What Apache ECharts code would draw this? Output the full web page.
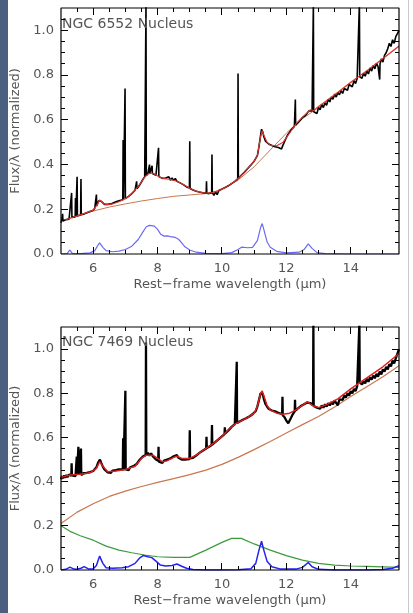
<!DOCTYPE html>
<html>
<head>
<meta charset="utf-8">
<script src="https://cdn.jsdelivr.net/npm/echarts@6/dist/echarts.min.js"></script>
<style>
  html, body { margin: 0; padding: 0; background: #fff; }
  #wrap { position: relative; width: 413px; height: 613px; }
  #chart { width: 413px; height: 613px; }
  .strip { position: absolute; left: 0; top: 0; width: 8px; height: 613px; background: #4b5f80; }
  .edge { position: absolute; left: 408px; top: 0; width: 1px; height: 613px; background: #c8c8c8; }
</style>
</head>
<body>
<div id="wrap">
  <div id="chart"></div>
  <div class="strip"></div>
  <div class="edge"></div>
</div>
<script>
// axis ranges and ticks
const X_MIN = 5, X_MAX = 15.5, X_STEP = 1
const Y_MIN = 0, Y_MAX = 1.1, Y_STEP = 0.2
const xMajorTicks = [6, 8, 10, 12, 14]
const xMinorTicks = [5.5, 6.5, 7, 7.5, 8.5, 9, 9.5, 10.5, 11, 11.5, 12.5, 13, 13.5, 14.5, 15]
const yMajorTicks = [0.2, 0.4, 0.6, 0.8, 1.0]
const yMinorTicks = [0.05, 0.1, 0.15, 0.25, 0.3, 0.35, 0.45, 0.5, 0.55, 0.65, 0.7, 0.75, 0.85, 0.9, 0.95, 1.05]

const panelTitles = ['NGC 6552 Nucleus', 'NGC 7469 Nucleus']

// NGC 6552 : [wavelength (um), flux/lambda]
const ngc6552Spectrum = [[5.0,.14],[5.02,.15],[5.04,.149],[5.05,.18],[5.06,.148],[5.1,.15],[5.15,.153],[5.2,.158],[5.25,.156],[5.3,.162],[5.32,.161],[5.33,.273],[5.34,.163],[5.4,.166],[5.44,.166],[5.45,.25],[5.46,.167],[5.49,.168],[5.5,.345],[5.51,.17],[5.56,.172],[5.61,.174],[5.62,.335],[5.63,.176],[5.7,.178],[5.75,.181],[5.8,.184],[5.85,.187],[5.9,.19],[5.95,.193],[6.0,.196],[6.05,.205],[6.09,.21],[6.1,.266],[6.11,.215],[6.17,.238],[6.21,.245],[6.25,.236],[6.3,.228],[6.35,.222],[6.4,.22],[6.45,.222],[6.5,.225],[6.55,.224],[6.6,.228],[6.65,.23],[6.7,.232],[6.75,.236],[6.8,.235],[6.85,.24],[6.92,.243],[6.93,.51],[6.94,.244],[6.98,.246],[6.99,.74],[7.0,.248],[7.05,.252],[7.1,.258],[7.15,.262],[7.2,.27],[7.25,.278],[7.3,.285],[7.34,.29],[7.35,.325],[7.36,.292],[7.4,.3],[7.45,.31],[7.5,.322],[7.55,.335],[7.6,.345],[7.63,.347],[7.64,1.12],[7.65,.35],[7.7,.36],[7.74,.362],[7.75,.4],[7.76,.36],[7.8,.365],[7.82,.364],[7.83,.395],[7.84,.36],[7.9,.358],[7.95,.352],[8.0,.348],[8.02,.347],[8.03,.475],[8.04,.346],[8.1,.34],[8.15,.338],[8.2,.336],[8.25,.34],[8.3,.337],[8.35,.345],[8.4,.33],[8.45,.34],[8.5,.328],[8.55,.338],[8.6,.325],[8.65,.322],[8.7,.318],[8.75,.315],[8.8,.31],[8.85,.305],[8.9,.3],[8.95,.296],[8.99,.295],[9.0,.504],[9.01,.293],[9.1,.286],[9.2,.281],[9.3,.277],[9.4,.274],[9.45,.272],[9.51,.272],[9.52,.325],[9.53,.272],[9.6,.27],[9.65,.274],[9.68,.274],[9.69,.445],[9.7,.275],[9.75,.262],[9.8,.278],[9.85,.265],[9.9,.283],[10.0,.29],[10.1,.297],[10.2,.305],[10.3,.315],[10.4,.325],[10.45,.333],[10.49,.336],[10.5,.807],[10.51,.338],[10.6,.352],[10.7,.366],[10.8,.382],[10.9,.398],[11.0,.415],[11.1,.44],[11.15,.48],[11.2,.53],[11.23,.558],[11.27,.545],[11.3,.525],[11.35,.505],[11.4,.497],[11.45,.492],[11.5,.488],[11.55,.485],[11.6,.482],[11.65,.48],[11.7,.478],[11.75,.476],[11.8,.474],[11.85,.47],[11.9,.488],[11.95,.505],[12.0,.52],[12.05,.535],[12.1,.545],[12.15,.555],[12.2,.562],[12.25,.57],[12.27,.574],[12.28,.691],[12.29,.576],[12.35,.585],[12.4,.59],[12.45,.6],[12.5,.61],[12.55,.605],[12.6,.62],[12.65,.63],[12.7,.64],[12.75,.645],[12.8,.64],[12.83,.638],[12.84,1.12],[12.85,.636],[12.9,.642],[12.95,.628],[13.0,.655],[13.05,.645],[13.1,.668],[13.15,.655],[13.2,.675],[13.25,.665],[13.3,.692],[13.35,.68],[13.4,.702],[13.45,.692],[13.5,.715],[13.55,.702],[13.6,.722],[13.65,.712],[13.7,.73],[13.75,.718],[13.8,.74],[13.85,.748],[13.9,.732],[13.95,.758],[14.0,.762],[14.05,.748],[14.1,.775],[14.15,.762],[14.2,.785],[14.26,.79],[14.27,1.12],[14.28,.792],[14.35,.786],[14.4,.808],[14.45,.795],[14.5,.818],[14.55,.805],[14.6,.832],[14.65,.818],[14.7,.843],[14.75,.828],[14.8,.853],[14.85,.838],[14.89,.845],[14.9,.78],[14.91,.85],[14.95,.872],[15.0,.858],[15.05,.888],[15.1,.9],[15.15,.918],[15.2,.942],[15.25,.928],[15.3,.958],[15.35,.942],[15.4,.972],[15.45,.985],[15.5,1.0]]
const ngc6552Fit = [[5.0,.145],[5.2,.155],[5.4,.165],[5.6,.175],[5.8,.185],[6.0,.196],[6.1,.215],[6.2,.242],[6.3,.228],[6.4,.22],[6.6,.224],[6.8,.234],[7.0,.247],[7.2,.27],[7.4,.302],[7.6,.344],[7.7,.357],[7.8,.362],[7.9,.358],[8.0,.349],[8.2,.337],[8.4,.333],[8.6,.325],[8.8,.311],[9.0,.294],[9.2,.281],[9.4,.274],[9.6,.272],[9.8,.278],[10.0,.29],[10.2,.305],[10.4,.325],[10.6,.351],[10.8,.383],[11.0,.415],[11.1,.44],[11.2,.525],[11.25,.552],[11.3,.532],[11.4,.5],[11.5,.487],[11.7,.484],[11.9,.5],[12.1,.54],[12.3,.582],[12.5,.612],[12.65,.632],[12.75,.645],[12.85,.642],[13.0,.66],[13.5,.712],[14.0,.768],[14.5,.82],[15.0,.875],[15.5,.93]]
const ngc6552Continuum = [[5.0,.148],[5.5,.17],[6.0,.192],[6.5,.21],[7.0,.224],[7.5,.237],[8.0,.248],[8.5,.258],[9.0,.264],[9.5,.27],[9.8,.28],[10.0,.292],[10.5,.33],[11.0,.39],[11.5,.465],[12.0,.54],[12.3,.582],[12.5,.605],[13.0,.655],[13.5,.71],[14.0,.766],[14.5,.818],[15.0,.872],[15.5,.928]]
const ngc6552Pah = [[5.0,0],[5.2,.003],[5.27,.018],[5.35,.003],[5.6,.002],[5.9,.005],[6.05,.015],[6.15,.04],[6.2,.05],[6.3,.03],[6.4,.015],[6.6,.01],[6.8,.013],[7.0,.02],[7.2,.035],[7.4,.065],[7.55,.1],[7.65,.122],[7.75,.128],[7.9,.125],[8.0,.11],[8.1,.088],[8.2,.08],[8.3,.081],[8.4,.078],[8.55,.074],[8.65,.066],[8.75,.05],[8.85,.032],[9.0,.018],[9.2,.008],[9.5,.003],[10.0,.002],[10.3,.006],[10.5,.02],[10.62,.031],[10.8,.028],[10.95,.03],[11.1,.06],[11.2,.118],[11.25,.136],[11.3,.11],[11.4,.055],[11.5,.03],[11.7,.012],[12.0,.005],[12.4,.008],[12.55,.02],[12.68,.045],[12.8,.025],[12.95,.006],[13.2,.002],[14.0,0],[15.5,0]]

// NGC 7469
const ngc7469Spectrum = [[5.0,.41],[5.03,.425],[5.06,.415],[5.1,.428],[5.13,.418],[5.17,.43],[5.2,.42],[5.25,.432],[5.3,.425],[5.32,.427],[5.33,.483],[5.34,.428],[5.4,.435],[5.45,.425],[5.48,.43],[5.49,.513],[5.5,.43],[5.53,.432],[5.54,.558],[5.55,.432],[5.6,.438],[5.61,.437],[5.62,.55],[5.63,.43],[5.7,.438],[5.75,.43],[5.8,.44],[5.85,.435],[5.9,.443],[5.95,.438],[6.0,.448],[6.05,.45],[6.1,.465],[6.15,.485],[6.21,.5],[6.25,.485],[6.3,.468],[6.35,.455],[6.4,.45],[6.45,.442],[6.5,.448],[6.55,.44],[6.6,.45],[6.65,.443],[6.7,.452],[6.75,.445],[6.8,.455],[6.85,.448],[6.92,.456],[6.93,.596],[6.94,.45],[6.99,.455],[7.0,.811],[7.01,.455],[7.05,.46],[7.1,.452],[7.15,.465],[7.2,.46],[7.25,.47],[7.3,.465],[7.35,.48],[7.4,.49],[7.45,.5],[7.5,.508],[7.55,.515],[7.6,.52],[7.63,.52],[7.64,1.03],[7.65,.52],[7.7,.53],[7.75,.518],[7.8,.528],[7.85,.515],[7.9,.51],[7.95,.5],[8.0,.498],[8.02,.495],[8.03,.558],[8.04,.49],[8.1,.492],[8.15,.485],[8.2,.495],[8.25,.49],[8.3,.5],[8.35,.498],[8.4,.505],[8.45,.51],[8.5,.515],[8.55,.51],[8.6,.52],[8.65,.508],[8.7,.51],[8.75,.5],[8.8,.508],[8.85,.5],[8.9,.505],[8.99,.502],[9.0,.633],[9.01,.505],[9.05,.51],[9.1,.508],[9.15,.515],[9.2,.518],[9.25,.525],[9.3,.53],[9.35,.535],[9.4,.54],[9.45,.545],[9.51,.55],[9.52,.603],[9.53,.552],[9.6,.558],[9.65,.565],[9.68,.566],[9.69,.656],[9.7,.568],[9.75,.572],[9.8,.58],[9.85,.588],[9.9,.592],[9.95,.6],[10.0,.605],[10.05,.612],[10.08,.615],[10.09,.646],[10.1,.618],[10.15,.625],[10.2,.632],[10.25,.64],[10.3,.648],[10.35,.655],[10.4,.66],[10.45,.663],[10.46,.943],[10.47,.665],[10.5,.668],[10.55,.672],[10.6,.675],[10.65,.68],[10.7,.683],[10.75,.687],[10.8,.69],[10.85,.695],[10.9,.7],[10.95,.705],[11.0,.712],[11.05,.72],[11.1,.74],[11.15,.77],[11.2,.8],[11.23,.808],[11.27,.795],[11.3,.775],[11.35,.752],[11.4,.74],[11.45,.73],[11.5,.725],[11.55,.722],[11.6,.72],[11.65,.718],[11.7,.715],[11.75,.712],[11.8,.71],[11.87,.706],[11.88,.784],[11.89,.7],[11.95,.69],[12.0,.676],[12.06,.664],[12.1,.672],[12.15,.69],[12.2,.705],[12.26,.718],[12.27,.77],[12.28,.722],[12.35,.73],[12.4,.738],[12.45,.742],[12.5,.745],[12.55,.75],[12.6,.752],[12.65,.758],[12.7,.76],[12.75,.755],[12.83,.75],[12.84,1.12],[12.85,.742],[12.9,.738],[12.95,.735],[13.0,.738],[13.05,.73],[13.1,.745],[13.15,.735],[13.2,.75],[13.25,.74],[13.3,.755],[13.35,.745],[13.4,.76],[13.45,.75],[13.5,.768],[13.55,.756],[13.6,.746],[13.65,.772],[13.7,.78],[13.75,.77],[13.8,.79],[13.85,.78],[13.9,.8],[13.95,.79],[14.0,.81],[14.05,.8],[14.1,.82],[14.15,.81],[14.2,.832],[14.26,.838],[14.27,1.12],[14.28,.848],[14.35,.84],[14.4,.855],[14.45,.845],[14.5,.865],[14.55,.852],[14.6,.872],[14.65,.862],[14.7,.88],[14.75,.868],[14.8,.888],[14.85,.875],[14.9,.898],[14.95,.885],[15.0,.908],[15.05,.898],[15.1,.92],[15.15,.908],[15.2,.932],[15.25,.922],[15.3,.948],[15.35,.935],[15.4,.958],[15.45,.965],[15.5,1.0]]
const ngc7469Fit = [[5.0,.42],[5.3,.43],[5.6,.433],[5.9,.44],[6.1,.46],[6.2,.49],[6.3,.47],[6.45,.445],[6.7,.448],[7.0,.455],[7.3,.47],[7.5,.505],[7.65,.52],[7.85,.52],[8.0,.505],[8.15,.49],[8.3,.495],[8.5,.51],[8.6,.515],[8.75,.505],[9.0,.505],[9.2,.52],[9.4,.54],[9.6,.56],[9.8,.58],[10.0,.605],[10.2,.635],[10.4,.66],[10.6,.675],[10.8,.69],[11.0,.71],[11.1,.74],[11.2,.8],[11.25,.81],[11.3,.79],[11.4,.745],[11.5,.725],[11.7,.71],[11.9,.705],[12.1,.71],[12.3,.725],[12.5,.745],[12.65,.762],[12.8,.745],[13.0,.735],[13.3,.752],[13.6,.775],[14.0,.82],[14.5,.87],[15.0,.92],[15.5,.98]]
const ngc7469Continuum = [[5.0,.21],[5.5,.262],[6.0,.3],[6.5,.333],[7.0,.357],[7.5,.378],[8.0,.397],[8.5,.414],[9.0,.432],[9.5,.452],[10.0,.478],[10.5,.51],[11.0,.545],[11.5,.582],[12.0,.62],[12.5,.658],[13.0,.695],[13.5,.738],[14.0,.785],[14.5,.83],[15.0,.875],[15.5,.925]]
const ngc7469Silicate = [[5.0,.2],[5.28,.175],[5.6,.155],[6.0,.135],[6.4,.108],[6.8,.09],[7.2,.078],[7.6,.068],[8.0,.06],[8.5,.057],[9.0,.057],[9.5,.09],[10.0,.125],[10.3,.143],[10.6,.143],[11.0,.118],[11.5,.09],[12.0,.065],[12.5,.045],[13.0,.03],[13.5,.022],[14.0,.018],[14.5,.016],[15.0,.014],[15.5,.012]]
const ngc7469Pah = [[5.0,0],[5.15,.003],[5.28,.013],[5.4,.004],[5.5,.003],[5.62,.008],[5.72,.015],[5.85,.005],[6.0,.005],[6.1,.02],[6.2,.063],[6.3,.03],[6.4,.01],[6.6,.008],[6.9,.01],[7.1,.015],[7.3,.03],[7.45,.055],[7.56,.066],[7.7,.06],[7.82,.056],[7.95,.04],[8.08,.023],[8.25,.018],[8.45,.02],[8.6,.027],[8.75,.017],[8.9,.008],[9.1,.002],[9.5,0],[10.0,0],[10.5,.001],[10.9,.006],[11.05,.03],[11.15,.09],[11.23,.13],[11.3,.09],[11.4,.04],[11.55,.015],[11.8,.005],[12.3,.004],[12.5,.012],[12.68,.034],[12.8,.015],[13.0,.003],[13.5,0],[14.5,0],[15.0,.002],[15.3,.008],[15.5,.02]]

const FONT = 'DejaVu Sans, sans-serif'
const TXT = '#555'
const FRAME = '#000'

const PANELS = [{ top: 8, height: 246 }, { top: 327, height: 243 }]
const PLOT_LEFT = 61, PLOT_W = 338

// closed plot box, drawn on the panel's axes
function boxSeries(panel) {
  return { type: 'line', xAxisIndex: panel, yAxisIndex: panel, symbol: 'none', clip: false, z: 6,
    data: [[X_MIN, Y_MIN], [X_MAX, Y_MIN], [X_MAX, Y_MAX], [X_MIN, Y_MAX], [X_MIN, Y_MIN]],
    lineStyle: { color: FRAME, width: 1.2 } }
}

// inward ticks on both opposite sides, as thin filled bars placed with api.coord
function tickSeries(panel, dim, values, len) {
  return {
    type: 'custom', xAxisIndex: panel, yAxisIndex: panel, z: 7, clip: false,
    data: values.map(v => (dim === 'x' ? [v, Y_MIN] : [X_MIN, v])),
    renderItem: (params, api) => {
      const style = api.style({ fill: FRAME, stroke: null })
      if (dim === 'x') {
        const v = api.value(0)
        const a = api.coord([v, Y_MIN]), b = api.coord([v, Y_MAX])
        const x = Math.floor(a[0])
        return { type: 'group', children: [
          { type: 'rect', shape: { x, y: a[1] - len, width: 1, height: len }, style },
          { type: 'rect', shape: { x, y: b[1], width: 1, height: len }, style }
        ] }
      }
      const v = api.value(1)
      const a = api.coord([X_MIN, v]), b = api.coord([X_MAX, v])
      const y = Math.floor(a[1])
      return { type: 'group', children: [
        { type: 'rect', shape: { x: a[0], y, width: len, height: 1 }, style },
        { type: 'rect', shape: { x: b[0] - len, y, width: len, height: 1 }, style }
      ] }
    }
  }
}

function curve(data, panel, color, width, z) {
  return { type: 'line', data, xAxisIndex: panel, yAxisIndex: panel, symbol: 'none',
    z, lineStyle: { color, width } }
}

const grids = PANELS.map(p => ({ left: PLOT_LEFT, top: p.top, width: PLOT_W, height: p.height }))

const xAxes = PANELS.map((p, i) => ({
  type: 'value', gridIndex: i, min: X_MIN, max: X_MAX, interval: X_STEP,
  axisLine: { show: false, onZero: false }, axisTick: { show: false }, splitLine: { show: false },
  axisLabel: { show: true, margin: 8, color: TXT, fontSize: 13, fontFamily: FONT,
    formatter: v => (xMajorTicks.includes(v) ? String(v) : '') },
  name: 'Rest−frame wavelength (μm)', nameLocation: 'middle', nameGap: 24,
  nameTextStyle: { color: TXT, fontSize: 13, fontFamily: FONT }
}))

const yAxes = PANELS.map((p, i) => ({
  type: 'value', gridIndex: i, min: Y_MIN, max: Y_MAX, interval: Y_STEP,
  axisLine: { show: false, onZero: false }, axisTick: { show: false }, splitLine: { show: false },
  axisLabel: { show: true, margin: 7, color: TXT, fontSize: 13, fontFamily: FONT, showMaxLabel: false,
    formatter: v => v.toFixed(1) },
  name: 'Flux/λ (normalized)', nameLocation: 'middle', nameGap: 33,
  nameTextStyle: { color: TXT, fontSize: 13, fontFamily: FONT }
}))

const series = [
  curve(ngc6552Continuum, 0, '#c8774f', 1, 2),
  curve(ngc6552Pah, 0, '#6a6af2', 1.2, 2),
  curve(ngc6552Spectrum, 0, '#000', 1.6, 3),
  curve(ngc6552Fit, 0, '#e3342b', 1.1, 4),
  curve(ngc7469Continuum, 1, '#c8774f', 1.2, 2),
  curve(ngc7469Silicate, 1, '#3c9c3c', 1.2, 2),
  curve(ngc7469Pah, 1, '#2424ee', 1.5, 2),
  curve(ngc7469Spectrum, 1, '#000', 2.3, 3),
  curve(ngc7469Fit, 1, '#dc1f1f', 1.5, 4)
]
PANELS.forEach((p, i) => {
  series.push(boxSeries(i),
    tickSeries(i, 'x', xMajorTicks, 7), tickSeries(i, 'x', xMinorTicks, 4),
    tickSeries(i, 'y', yMajorTicks, 7), tickSeries(i, 'y', yMinorTicks, 4))
})

const chart = echarts.init(document.getElementById('chart'))
chart.setOption({
  animation: false,
  grid: grids,
  xAxis: xAxes,
  yAxis: yAxes,
  title: [
    { text: panelTitles[0], left: 62, top: 17, padding: 0,
      textStyle: { fontSize: 14, fontWeight: 'normal', color: TXT, fontFamily: FONT } },
    { text: panelTitles[1], left: 62, top: 335, padding: 0,
      textStyle: { fontSize: 14, fontWeight: 'normal', color: TXT, fontFamily: FONT } }
  ],
  series
})
</script>
</body>
</html>
